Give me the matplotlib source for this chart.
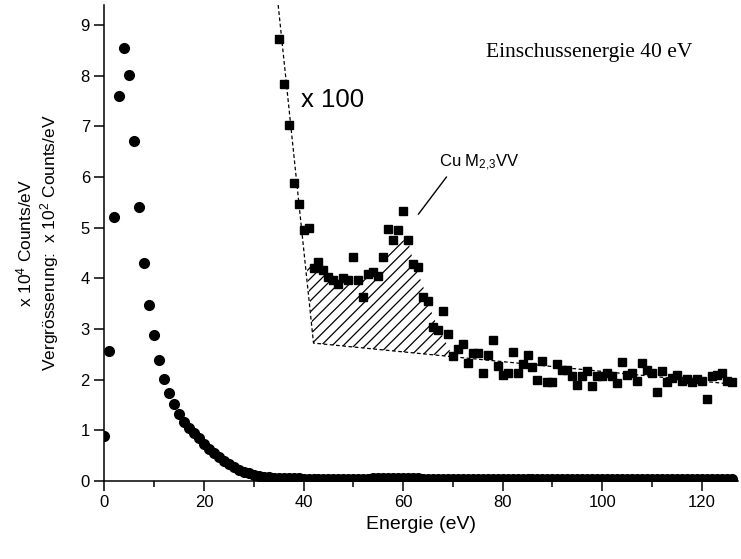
import matplotlib
matplotlib.use("Agg")
import matplotlib.pyplot as plt

plt.rcParams["font.family"] = ["Liberation Sans", "DejaVu Sans"]
plt.rcParams["mathtext.default"] = "regular"
plt.rcParams["hatch.color"] = "black"
plt.rcParams["hatch.linewidth"] = 0.9

# Rohspektrum (x 10^4 Counts/eV), 1 eV Schritte ab 0 eV
energie = list(range(0, 127))
counts = [0.88, 2.57, 5.21, 7.60, 8.55, 8.02, 6.71, 5.41, 4.30, 3.48,
          2.88, 2.39, 2.01, 1.74, 1.51, 1.32, 1.16, 1.04, 0.94, 0.84,
          0.73, 0.63, 0.54, 0.46, 0.39, 0.33, 0.27, 0.22, 0.18, 0.15,
          0.12, 0.10, 0.08, 0.07, 0.06, 0.05, 0.05, 0.05, 0.05, 0.05,
          0.04, 0.04, 0.04, 0.04, 0.04, 0.04, 0.04, 0.04, 0.04, 0.04,
          0.04, 0.04, 0.04, 0.04, 0.05, 0.05, 0.05, 0.06, 0.06, 0.06,
          0.06, 0.05, 0.05, 0.05, 0.04, 0.04, 0.04, 0.04, 0.04, 0.04,
          0.04, 0.04, 0.04, 0.04, 0.04, 0.04, 0.04, 0.04, 0.04, 0.04,
          0.04, 0.04, 0.04, 0.04, 0.04, 0.04, 0.04, 0.04, 0.04, 0.04,
          0.04, 0.04, 0.04, 0.04, 0.04, 0.04, 0.04, 0.04, 0.04, 0.04,
          0.04, 0.04, 0.04, 0.04, 0.04, 0.04, 0.04, 0.04, 0.04, 0.04,
          0.04, 0.04, 0.04, 0.04, 0.04, 0.04, 0.04, 0.04, 0.04, 0.04,
          0.04, 0.04, 0.04, 0.04, 0.04, 0.04, 0.04]

# Vergroesserung x 100 (x 10^2 Counts/eV), ab 35 eV
energie_x100 = list(range(35, 127))
counts_x100 = [8.72, 7.83, 7.03, 5.88, 5.46, 4.96, 4.99, 4.21, 4.33, 4.17,
               4.03, 3.97, 3.89, 4.01, 3.97, 4.42, 3.96, 3.63, 4.08, 4.12,
               4.05, 4.43, 4.97, 4.75, 4.95, 5.33, 4.75, 4.28, 4.22, 3.63,
               3.55, 3.03, 2.97, 3.35, 2.89, 2.46, 2.61, 2.70, 2.33, 2.52,
               2.52, 2.12, 2.49, 2.79, 2.26, 2.08, 2.13, 2.54, 2.12, 2.30,
               2.49, 2.25, 2.00, 2.36, 1.95, 1.96, 2.30, 2.18, 2.18, 2.06,
               1.90, 2.06, 2.17, 1.87, 2.06, 2.06, 2.13, 2.06, 1.94, 2.35,
               2.08, 2.12, 1.97, 2.33, 2.18, 2.13, 1.75, 2.17, 1.95, 2.04,
               2.08, 1.97, 2.02, 1.95, 2.02, 1.97, 1.61, 2.06, 2.08, 2.12,
               1.98, 1.96]

# Untergrund (gestrichelt)
bg_x = [34.9, 42.0, 127.0]
bg_y = [9.40, 2.72, 1.90]

# schraffierte Peakflaeche
peak_x = [40.6, 42.0, 70.0, 68.0, 66.0, 64.0, 62.0, 61.0, 60.0, 58.0,
          56.0, 54.0, 51.0, 48.0, 45.0, 42.0]
peak_y = [4.30, 2.72, 2.45, 2.85, 3.25, 3.85, 4.35, 4.75, 4.75, 4.60,
          4.30, 4.05, 3.95, 3.95, 4.00, 4.20]

fig = plt.figure(figsize=(7.41, 5.59), dpi=100)
ax = fig.add_axes([0.141, 0.140, 0.855, 0.851])

ax.fill(peak_x, peak_y, facecolor="none", edgecolor="black",
        linewidth=0, hatch="///")
ax.plot(bg_x, bg_y, color="black", lw=0.9, ls=(0, (3, 2)))

ax.plot(energie, counts, "o", color="black", ms=7, mec="black")
ax.plot(energie_x100, counts_x100, "s", color="black", ms=6.2, mec="black")

ax.text(39.4, 7.52, "x 100", fontsize=18.5, va="center")
ax.text(67.3, 6.2, "Cu M$_{2{,}3}$VV", fontsize=12)
ax.plot([63.1, 68.7], [5.27, 6.0], color="black", lw=1)
ax.text(76.6, 8.47, "Einschussenergie 40 eV", fontsize=15.5,
        family="Liberation Serif", va="center")

ax.set_xlim(0, 127.3)
ax.set_ylim(0, 9.4)
ax.set_xticks(range(0, 121, 20))
ax.set_xticks(range(10, 127, 20), minor=True)
ax.set_yticks(range(0, 10))
ax.tick_params(axis="both", which="major", length=7, width=1.1,
               labelsize=12, direction="out")
ax.tick_params(axis="x", which="minor", length=4, width=1.1)

for s in ["top", "right"]:
    ax.spines[s].set_visible(False)
for s in ["left", "bottom"]:
    ax.spines[s].set_linewidth(1.1)

ax.set_xlabel("Energie (eV)", fontsize=14)
ax.set_ylabel("x 10$^4$ Counts/eV\nVergrösserung:  x 10$^2$ Counts/eV",
              fontsize=12.5, multialignment="center", labelpad=14)

fig.savefig("out.png", dpi=100)
